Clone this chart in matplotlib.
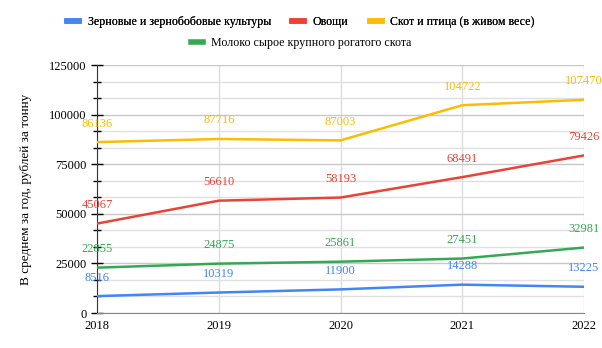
import matplotlib.pyplot as plt
from matplotlib.ticker import MultipleLocator
from matplotlib.lines import Line2D

years = [2018, 2019, 2020, 2021, 2022]
grain = [8516, 10319, 11900, 14288, 13225]
veg = [45067, 56610, 58193, 68491, 79426]
cattle = [86136, 87716, 87003, 104722, 107470]
milk = [22855, 24875, 25861, 27451, 32981]

names = ["Зерновые и зернобобовые культуры", "Овощи",
         "Скот и птица (в живом весе)", "Молоко сырое крупного рогатого скота"]
colors = ["#4285F4", "#EA4335", "#FBBC04", "#34A853"]

plt.rcParams['font.family'] = ['Liberation Serif', 'DejaVu Serif']

fig = plt.figure(figsize=(6.02, 3.48), dpi=100)
ax = fig.add_axes([97/602, 1 - 313/348, (584-97)/602, (313-65)/348])

for vals, c in zip([grain, veg, cattle, milk], colors):
    ax.plot(years, vals, color=c, lw=1.8, zorder=3)
    for x, v in zip(years, vals):
        ax.annotate(str(v), (x, v), xytext=(0, 9), textcoords='offset points',
                    ha='center', va='bottom', color=c, fontsize=9, zorder=4)

ax.set_xlim(2018, 2022)
ax.set_ylim(0, 125000)
ax.set_xticks(years)
ax.yaxis.set_major_locator(MultipleLocator(25000))
ax.yaxis.set_minor_locator(MultipleLocator(25000/3))
ax.grid(axis='y', which='major', color='#c8c8c8', lw=1)
ax.grid(axis='y', which='minor', color='#e0e0e0', lw=1)
ax.grid(axis='x', which='major', color='#dddddd', lw=1)
ax.tick_params(axis='y', which='major', direction='inout', length=8, width=1, labelsize=9)
ax.tick_params(axis='y', which='minor', direction='inout', length=6, width=1)
ax.tick_params(axis='x', length=0, labelsize=9, pad=5)
for s in ['top', 'right']:
    ax.spines[s].set_visible(False)
ax.spines['left'].set_color('#333333')
ax.spines['bottom'].set_color('#888888')
ax.set_ylabel("В среднем за год, рублей за тонну", fontsize=9.5, labelpad=12)

handles = [Line2D([0], [0], color=c, lw=4) for c in colors]
leg1 = fig.legend(handles[:3], names[:3], loc='center', bbox_to_anchor=(0.5, 1 - 22/348),
                  ncol=3, frameon=False, fontsize=8.6, handlelength=1.0,
                  columnspacing=1.8, handletextpad=0.7, borderaxespad=0)
leg2 = fig.legend(handles[3:], names[3:], loc='center', bbox_to_anchor=(0.5, 1 - 43/348),
                  ncol=1, frameon=False, fontsize=8.6, handlelength=1.0,
                  handletextpad=0.7, borderaxespad=0)
fig.add_artist(leg1)

fig.savefig("out.png", dpi=100)
